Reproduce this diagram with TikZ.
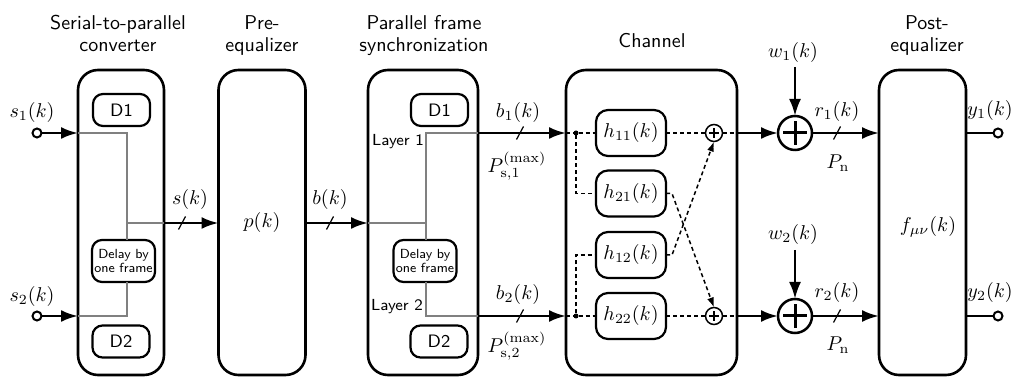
\documentclass[tikz,border=0pt]{standalone}
\usetikzlibrary{arrows.meta}
\definecolor{linegray}{RGB}{128,128,128}
\tikzset{
  slashmark/.pic={\draw[line width=0.6pt] (-3.5,6.5) -- (3.5,-6.5);},
}
\begin{document}
\begin{tikzpicture}[x=0.5pt,y=-0.5pt,
  every node/.style={font=\sffamily\fontsize{10}{11}\selectfont, inner sep=0pt, outer sep=0pt},
  blk/.style={draw, line width=1.3pt, rounded corners=10pt, minimum height=152.5pt},
  ibox/.style={draw, line width=1.1pt, rounded corners=5pt},
  hbox/.style={draw, line width=1.1pt, rounded corners=6pt, minimum width=35pt, minimum height=23pt, font=\fontsize{10}{12}\selectfont},
  ml/.style={font=\fontsize{10}{12}\selectfont},
  arr/.style={line width=1.3pt, -{Latex[length=8.5pt,width=6pt]}},
  plainline/.style={line width=1.3pt},
  gl/.style={draw=linegray, line width=1pt},
  dsh/.style={line width=0.75pt, dash pattern=on 2pt off 1.5pt},
  darr/.style={dsh, -{Latex[length=5pt,width=3.5pt]}},
  ttl/.style={anchor=base},
  dly/.style={ibox, minimum width=31.5pt, minimum height=21pt, align=center, font=\sffamily\fontsize{6.6}{7.3}\selectfont},
  lay/.style={font=\sffamily\fontsize{8}{9}\selectfont},
  dd/.style={ibox, minimum width=28.5pt, minimum height=16pt, font=\sffamily\fontsize{9}{10}\selectfont},
  sadd/.style={circle, draw, line width=0.75pt, minimum size=8.5pt, fill=white,
    path picture={\draw[line width=0.6pt] ([xshift=-2.5pt]path picture bounding box.center) -- ([xshift=2.5pt]path picture bounding box.center);
                  \draw[line width=0.6pt] ([yshift=-2.5pt]path picture bounding box.center) -- ([yshift=2.5pt]path picture bounding box.center);}},
  badd/.style={circle, draw, line width=1.25pt, minimum size=17pt,
    path picture={\draw[line width=1.5pt] ([xshift=-6pt]path picture bounding box.center) -- ([xshift=6pt]path picture bounding box.center);
                  \draw[line width=1.5pt] ([yshift=-6pt]path picture bounding box.center) -- ([yshift=6pt]path picture bounding box.center);}},
  term/.style={circle, draw, line width=1pt, minimum size=4.5pt, fill=white},
  jdot/.style={circle, fill, minimum size=2.5pt}
]
\useasboundingbox (0,0) rectangle (1026,378);

% main blocks
\node[blk, minimum width=43pt]   (sp) at (121,222.5) {};
\node[blk, minimum width=43.5pt] (pe) at (262,222.5) {};
\node[blk, minimum width=55pt]   (sy) at (423,222.5) {};
\node[blk, minimum width=85.5pt] (ch) at (651.5,222.5) {};
\node[blk, minimum width=43.5pt] (po) at (922.5,222.5) {};

% titles
\node[ttl] (t1a) at (118,30) {Serial-to-parallel};
\node[ttl] (t1b) at (118,52) {converter};
\node[ttl] (t2a) at (262,30) {Pre-};
\node[ttl] (t2b) at (262,52) {equalizer};
\node[ttl] (t3a) at (424,30) {Parallel frame};
\node[ttl] (t3b) at (424,52) {synchronization};
\node[ttl] (t4)  at (652,48) {Channel};
\node[ttl] (t5a) at (927,30) {Post-};
\node[ttl] (t5b) at (927,52) {equalizer};

% serial-to-parallel interior
\node[dd]  (d1a) at (121.5,110) {D1};
\node[dd]  (d2a) at (121,341.5) {D2};
\node[dly] (dla) at (123.5,261) {Delay by\\one frame};
\coordinate (ga1) at (127,133);
\coordinate (ga2) at (127,316);
\coordinate (ga3) at (127,223);
\draw[gl] (sp.west |- ga1) -- (ga1) -- (ga1 |- dla.north);
\draw[gl] (ga1 |- dla.south) -- (ga2) -- (sp.west |- ga2);
\draw[gl] (ga3) -- (sp.east |- ga3);

% inputs
\node[term] (in1) at (37,133) {};
\node[term] (in2) at (37,316) {};
\draw[arr] (in1) -- (sp.west |- in1);
\draw[arr] (in2) -- (sp.west |- in2);
\node[ml] (ls1) at (32,113) {$s_1(k)$};
\node[ml] (ls2) at (32,297) {$s_2(k)$};

% s(k)
\draw[arr] (sp.east |- ga3) -- (pe.west |- ga3);
\pic at (182,223) {slashmark};
\node[ml] (lsk) at (190,200) {$s(k)$};
\node[ml] (lp) at (262,223) {$p(k)$};

% b(k)
\draw[arr] (pe.east |- ga3) -- (sy.west |- ga3);
\pic at (330,223) {slashmark};
\node[ml] (lbk) at (330,200) {$b(k)$};

% synchronization interior
\node[dd]  (d1b) at (439.5,110) {D1};
\node[dd]  (d2b) at (439,341.5) {D2};
\node[dly] (dlb) at (425,261) {Delay by\\one frame};
\coordinate (gb1) at (426,133);
\coordinate (gb2) at (426,316);
\coordinate (gb3) at (426,223);
\draw[gl] (sy.west |- gb3) -- (gb3);
\draw[gl] (sy.east |- gb1) -- (gb1) -- (gb1 |- dlb.north);
\draw[gl] (gb1 |- dlb.south) -- (gb2) -- (sy.east |- gb2);
\node[lay] (ly1) at (398,141.5) {Layer 1};
\node[lay] (ly2) at (397,307) {Layer 2};

% to channel
\draw[arr] (sy.east |- gb1) -- (ch.west |- gb1);
\draw[arr] (sy.east |- gb2) -- (ch.west |- gb2);
\pic at (520,133) {slashmark};
\pic at (520,316) {slashmark};
\node[ml] (lb1) at (518,113) {$b_1(k)$};
\node[ml] (lb2) at (518,295) {$b_2(k)$};
\node[ml] (lP1) at (517,166) {$P_{\mathrm{s},1}^{(\max)}$};
\node[ml] (lP2) at (517,346) {$P_{\mathrm{s},2}^{(\max)}$};

% channel interior
\node[hbox] (h11) at (631,133) {$h_{11}(k)$};
\node[hbox] (h21) at (631,193.5) {$h_{21}(k)$};
\node[hbox] (h12) at (631,255) {$h_{12}(k)$};
\node[hbox] (h22) at (631,316) {$h_{22}(k)$};
\node[jdot] (j1) at (576,133) {};
\node[jdot] (j2) at (576,316) {};
\node[sadd] (a1) at (714,133) {};
\node[sadd] (a2) at (714,316) {};
\draw[dsh] (ch.west |- j1) -- (j1) -- (h11.west);
\draw[dsh] (ch.west |- j2) -- (j2) -- (h22.west);
\draw[dsh] (j1) |- (h21.west);
\draw[dsh] (j2) |- (h12.west);
\draw[dsh] (h11.east) -- (a1.west);
\draw[dsh] (h22.east) -- (a2.west);
\draw[darr] (h21.east) -- ++(6,0) -- (a2.north);
\draw[darr] (h12.east) -- ++(6,0) -- (a1.south);
\draw[dsh] (a1.east) -- (ch.east |- a1);
\draw[dsh] (a2.east) -- (ch.east |- a2);

% noise adders
\node[badd] (A1) at (795,133) {};
\node[badd] (A2) at (795,316) {};
\draw[arr] (ch.east |- A1) -- (A1.west);
\draw[arr] (ch.east |- A2) -- (A2.west);
\coordinate (w1s) at (795,67);
\coordinate (w2s) at (795,250);
\draw[arr] (w1s) -- (A1.north);
\draw[arr] (w2s) -- (A2.north);
\node[ml] (lw1) at (793,53) {$w_1(k)$};
\node[ml] (lw2) at (793,235) {$w_2(k)$};

% to post-equalizer
\draw[arr] (A1.east) -- (po.west |- A1);
\draw[arr] (A2.east) -- (po.west |- A2);
\pic at (837,133) {slashmark};
\pic at (837,316) {slashmark};
\node[ml] (lr1) at (837,112) {$r_1(k)$};
\node[ml] (lr2) at (837,293) {$r_2(k)$};
\node[ml] (lPn1) at (838,163) {$P_{\mathrm{n}}$};
\node[ml] (lPn2) at (838,345) {$P_{\mathrm{n}}$};
\node[ml] (lf) at (928,227) {$f_{\mu\nu}(k)$};

% outputs
\node[term] (out1) at (998,133) {};
\node[term] (out2) at (998,316) {};
\draw[plainline] (po.east |- out1) -- (out1);
\draw[plainline] (po.east |- out2) -- (out2);
\node[ml] (ly1o) at (990,111) {$y_1(k)$};
\node[ml] (ly2o) at (990,293) {$y_2(k)$};
\end{tikzpicture}
\end{document}
